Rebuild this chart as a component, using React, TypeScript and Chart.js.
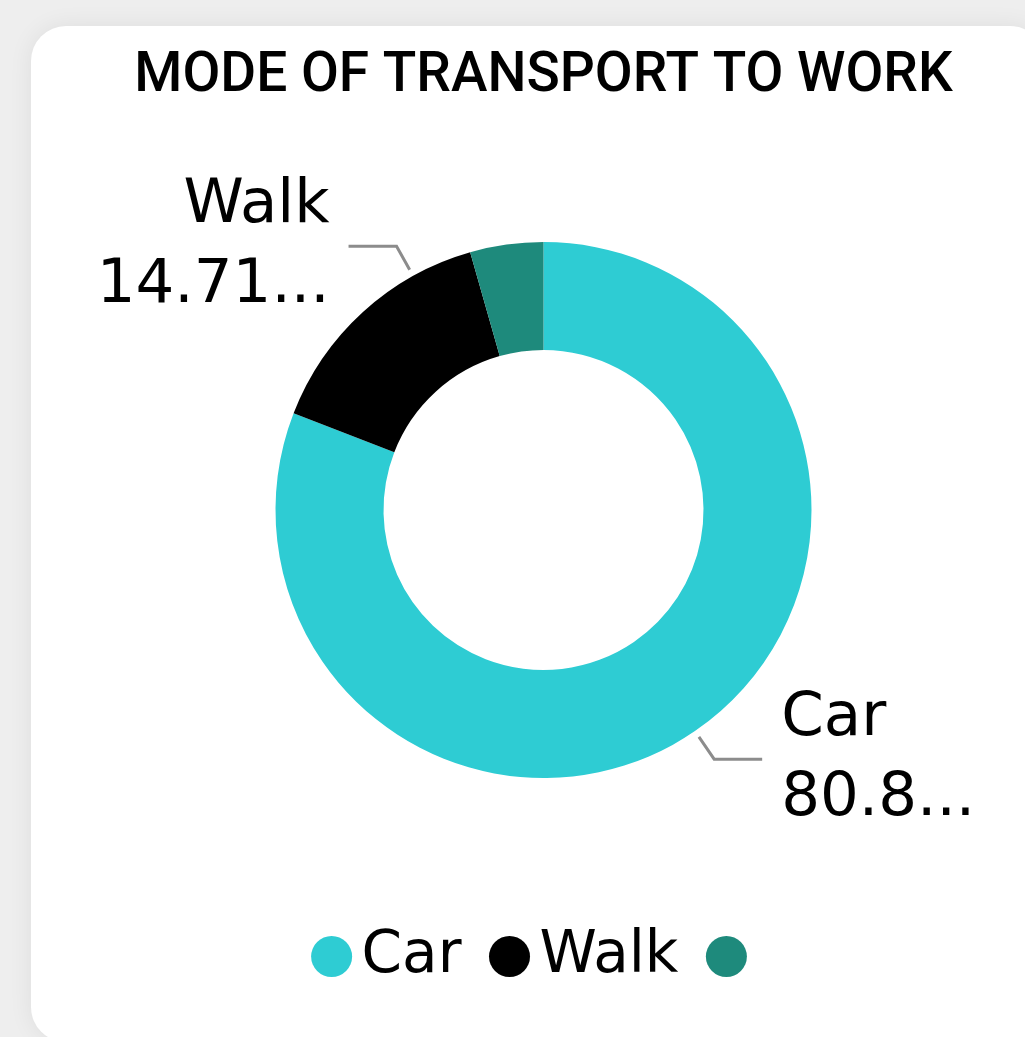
import { useEffect, useRef } from "react";
import { Chart, registerables } from "chart.js";

Chart.register(...registerables);

const titleText = "MODE OF TRANSPORT TO WORK";
const categories = ["Car", "Walk", ""];
const counts = [55, 10, 3];
const sliceColors = ["#2ECCD3", "#000000", "#1E8A7C"];
const labelAnchorFractions = [0.5, 0.75, 0.5];
const labelVisibleChars = [4, 5, 0];

const total = counts.reduce((a, b) => a + b, 0);
const percentTexts = counts.map((c) => ((c / total) * 100).toFixed(2) + "%");

const outsideLabels = {
  id: "outsideLabels",
  afterDatasetsDraw(chart: any) {
    const ctx = chart.ctx;
    const meta = chart.getDatasetMeta(0);
    meta.data.forEach((arc: any, i: number) => {
      if (!categories[i]) return;
      const { x, y, startAngle, endAngle, outerRadius } = arc.getProps(
        ["x", "y", "startAngle", "endAngle", "outerRadius"],
        true
      );
      const a = startAngle + (endAngle - startAngle) * labelAnchorFractions[i];
      const cos = Math.cos(a);
      const sin = Math.sin(a);
      const x1 = x + cos * (outerRadius + 7);
      const y1 = y + sin * (outerRadius + 7);
      const x2 = x + cos * (outerRadius + 34);
      const y2 = y + sin * (outerRadius + 34);
      const dir = cos >= 0 ? 1 : -1;
      const x3 = x2 + dir * 48;
      ctx.save();
      ctx.strokeStyle = "#8c8c8c";
      ctx.lineWidth = 3;
      ctx.lineJoin = "miter";
      ctx.beginPath();
      ctx.moveTo(x1, y1);
      ctx.lineTo(x2, y2);
      ctx.lineTo(x3, y2);
      ctx.stroke();
      ctx.fillStyle = "#000000";
      ctx.font = "61px 'DejaVu Sans'";
      ctx.textBaseline = "middle";
      ctx.textAlign = dir > 0 ? "left" : "right";
      const tx = x3 + dir * 19;
      const full = percentTexts[i];
      const n = labelVisibleChars[i];
      const valueText = n > 0 && n < full.length ? full.slice(0, n) + "..." : full;
      ctx.fillText(categories[i], tx, y2 - 40);
      ctx.fillText(valueText, tx, y2 + 40);
      ctx.restore();
    });
  },
};

export default function App() {
  const canvasRef = useRef<HTMLCanvasElement | null>(null);

  useEffect(() => {
    if (!canvasRef.current) return;
    const chart = new Chart(canvasRef.current, {
      type: "doughnut",
      data: {
        labels: categories,
        datasets: [
          {
            data: counts,
            backgroundColor: sliceColors,
            borderWidth: 0,
            radius: 268,
            cutout: "59.7%",
          } as any,
        ],
      },
      options: {
        animation: false,
        responsive: false,
        devicePixelRatio: 1,
        events: [],
        layout: { padding: { left: 62, right: 0, top: 0, bottom: 41.5 } },
        plugins: {
          tooltip: { enabled: false },
          title: {
            display: true,
            text: titleText,
            color: "#000000",
            font: { family: "Roboto", size: 55, weight: "500", lineHeight: 1.2 },
            padding: { top: 44, bottom: 29.5 },
          },
          legend: {
            display: true,
            position: "bottom",
            labels: {
              usePointStyle: true,
              pointStyle: "circle",
              boxWidth: 2,
              boxHeight: 29,
              padding: 47,
              color: "#000000",
              font: { family: "'DejaVu Sans'", size: 58 },
            },
          },
        },
      } as any,
      plugins: [outsideLabels],
    });
    return () => chart.destroy();
  }, []);

  return (
    <div
      style={{
        position: "fixed",
        left: 0,
        top: 0,
        width: 1025,
        height: 1037,
        background: "#eeeeee",
        overflow: "hidden",
      }}
    >
      <div
        style={{
          position: "absolute",
          left: 31,
          top: 26,
          width: 1014,
          height: 1016,
          background: "#ffffff",
          borderRadius: 35,
          boxShadow: "0 0 24px rgba(0,0,0,0.07)",
        }}
      />
      <canvas
        ref={canvasRef}
        width={1025}
        height={1037}
        style={{ position: "absolute", left: 0, top: 0 }}
      />
    </div>
  );
}
